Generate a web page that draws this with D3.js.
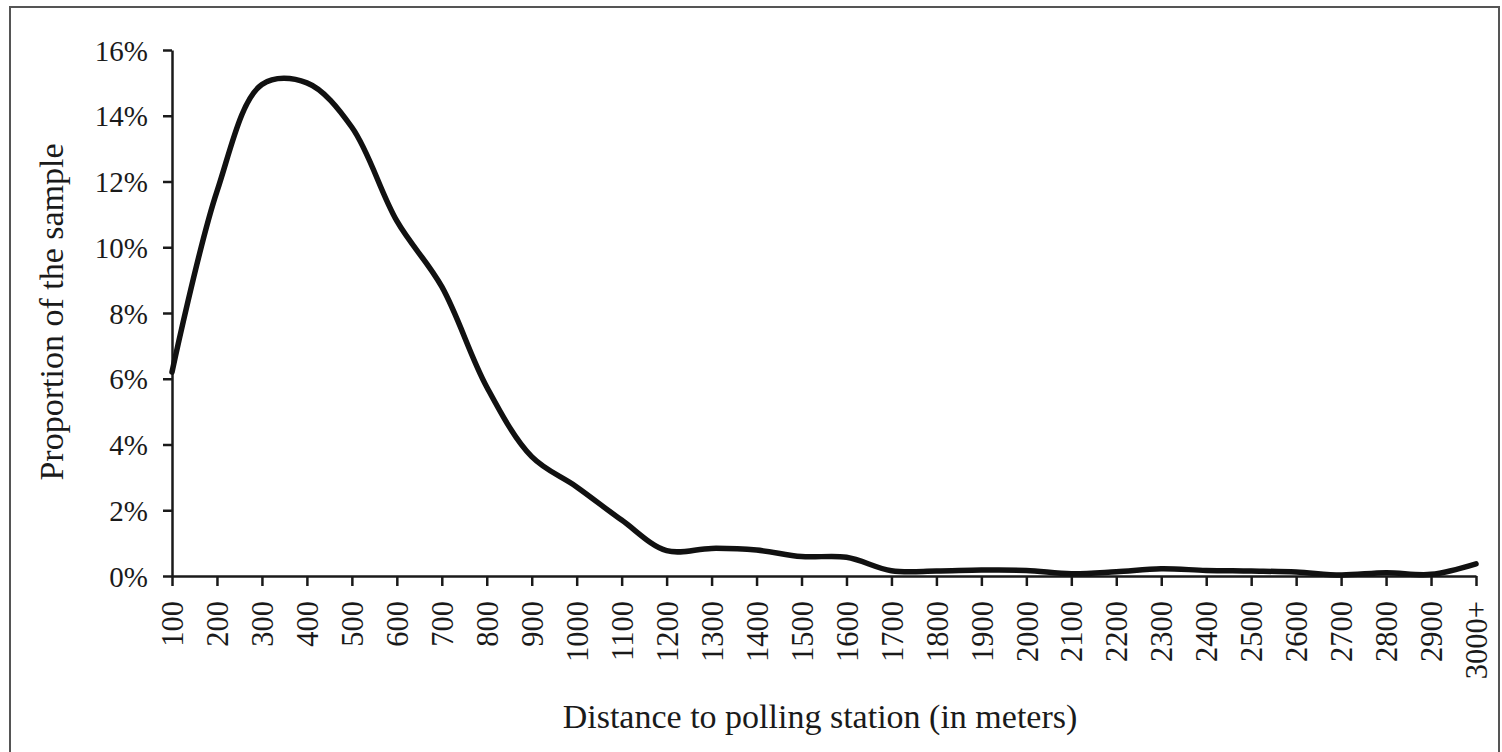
<!DOCTYPE html>
<html>
<head>
<meta charset="utf-8">
<script src="https://cdn.jsdelivr.net/npm/d3@7/dist/d3.min.js"></script>
<style>
html,body{margin:0;padding:0;background:#fff;}
svg{display:block;}
</style>
</head>
<body>
<svg id="chart" width="1502" height="752"></svg>
<script>
const categories = ["100","200","300","400","500","600","700","800","900","1000","1100","1200","1300","1400","1500","1600","1700","1800","1900","2000","2100","2200","2300","2400","2500","2600","2700","2800","2900","3000+"];
const values = [0.062,0.117,0.1495,0.150,0.1365,0.108,0.088,0.0575,0.0363,0.0271,0.017,0.0077,0.0084,0.0079,0.0059,0.0057,0.0016,0.0015,0.0018,0.0017,0.0007,0.0013,0.0022,0.0017,0.0015,0.0012,0.0003,0.0010,0.0005,0.0037];
const yTicks = [0,0.02,0.04,0.06,0.08,0.10,0.12,0.14,0.16];

const svg = d3.select("#chart");
const font = "'Liberation Serif','Times New Roman',serif";
const ink = "#1a1a1a";

svg.append("rect").attr("x",10).attr("y",7).attr("width",1489).attr("height",800)
  .attr("fill","none").attr("stroke","#555").attr("stroke-width",2);

const x = d3.scalePoint().domain(categories).range([172,1476]);
const y = d3.scaleLinear().domain([0,0.16]).range([576,50]);

const yAxis = svg.append("g").attr("transform","translate(172,0)")
  .call(d3.axisLeft(y).tickValues(yTicks).tickFormat(d3.format(".0%")).tickSize(9).tickSizeOuter(0).tickPadding(15));
const xAxis = svg.append("g").attr("transform","translate(0,576)")
  .call(d3.axisBottom(x).tickSize(10).tickSizeOuter(0).tickPadding(0));

[yAxis,xAxis].forEach(g=>{
  g.select(".domain").attr("stroke",ink).attr("stroke-width",2.5);
  g.selectAll(".tick line").attr("stroke",ink).attr("stroke-width",2.5);
  g.selectAll("text").attr("fill",ink).style("font-family",font).style("font-size","29px");
});
yAxis.selectAll("text").attr("dy","0.35em");
xAxis.selectAll(".tick text")
  .style("font-size","30.5px")
  .attr("transform","rotate(-90)")
  .attr("text-anchor","end")
  .attr("x",-25).attr("y",0).attr("dy","0.35em");

const line = d3.line()
  .x((d,i)=>x(categories[i]))
  .y(d=>y(d))
  .curve(d3.curveCatmullRom.alpha(0.5));
svg.append("path").datum(values).attr("d",line)
  .attr("fill","none").attr("stroke","#111").attr("stroke-width",5.5)
  .attr("stroke-linejoin","round").attr("stroke-linecap","round");

svg.append("text").attr("transform","translate(63,312) rotate(-90)")
  .attr("text-anchor","middle").attr("fill",ink)
  .style("font-family",font).style("font-size","34px")
  .text("Proportion of the sample");

svg.append("text").attr("x",820).attr("y",728)
  .attr("text-anchor","middle").attr("fill",ink)
  .style("font-family",font).style("font-size","34px")
  .text("Distance to polling station (in meters)");
</script>
</body>
</html>
